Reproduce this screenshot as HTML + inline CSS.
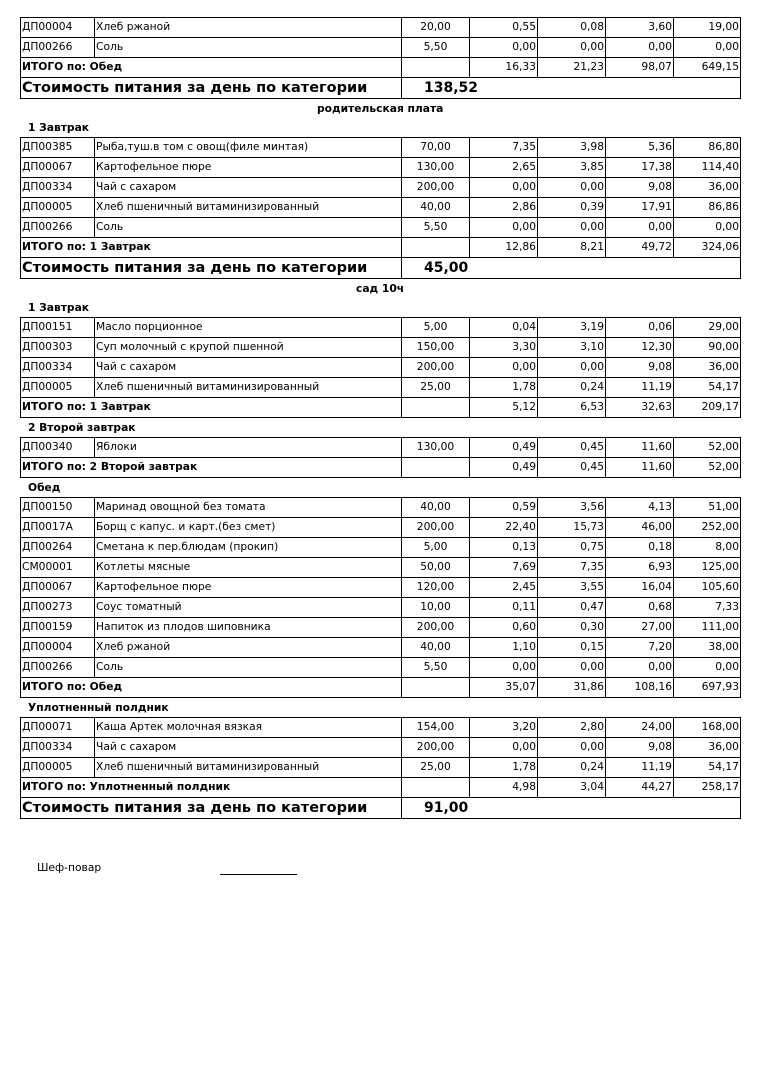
<!DOCTYPE html>
<html><head><meta charset="utf-8"><style>
body{margin:0;width:758px;height:1071px;background:#fff;position:relative;font-family:"DejaVu Sans","Liberation Sans",sans-serif;font-size:10.7px;color:#000;overflow:hidden}
table{position:absolute;left:20px;border-collapse:collapse;table-layout:fixed;width:721px}
td{border:1px solid #000;height:19px;padding:0 1px;white-space:nowrap;overflow:hidden;line-height:17px;vertical-align:top}
td.r{text-align:right}td.c{text-align:center}
tr.s td{font-weight:bold;font-size:14.5px;height:20px;line-height:20px;vertical-align:middle}
tr.s td.v{padding-left:22px;font-size:14px}
.h{position:absolute;font-weight:bold;font-size:10.7px}
</style></head><body>
<table style="top:17px"><colgroup><col style="width:74px"><col style="width:307px"><col style="width:68px"><col style="width:68px"><col style="width:68px"><col style="width:68px"><col style="width:67px"></colgroup>
<tr><td>ДП00004</td><td>Хлеб ржаной</td><td class="c">20,00</td><td class="r">0,55</td><td class="r">0,08</td><td class="r">3,60</td><td class="r">19,00</td></tr>
<tr><td>ДП00266</td><td>Соль</td><td class="c">5,50</td><td class="r">0,00</td><td class="r">0,00</td><td class="r">0,00</td><td class="r">0,00</td></tr>
<tr><td colspan="2"><b>ИТОГО по: Обед</b></td><td></td><td class="r">16,33</td><td class="r">21,23</td><td class="r">98,07</td><td class="r">649,15</td></tr>
<tr class="s"><td colspan="2">Стоимость питания за день по категории</td><td colspan="5" class="v">138,52</td></tr>
</table>
<div class="h" style="top:102px;left:317px">родительская плата</div>
<div class="h" style="top:121px;left:28px">1 Завтрак</div>
<table style="top:137px"><colgroup><col style="width:74px"><col style="width:307px"><col style="width:68px"><col style="width:68px"><col style="width:68px"><col style="width:68px"><col style="width:67px"></colgroup>
<tr><td>ДП00385</td><td>Рыба,туш.в том с овощ(филе минтая)</td><td class="c">70,00</td><td class="r">7,35</td><td class="r">3,98</td><td class="r">5,36</td><td class="r">86,80</td></tr>
<tr><td>ДП00067</td><td>Картофельное пюре</td><td class="c">130,00</td><td class="r">2,65</td><td class="r">3,85</td><td class="r">17,38</td><td class="r">114,40</td></tr>
<tr><td>ДП00334</td><td>Чай с сахаром</td><td class="c">200,00</td><td class="r">0,00</td><td class="r">0,00</td><td class="r">9,08</td><td class="r">36,00</td></tr>
<tr><td>ДП00005</td><td>Хлеб пшеничный витаминизированный</td><td class="c">40,00</td><td class="r">2,86</td><td class="r">0,39</td><td class="r">17,91</td><td class="r">86,86</td></tr>
<tr><td>ДП00266</td><td>Соль</td><td class="c">5,50</td><td class="r">0,00</td><td class="r">0,00</td><td class="r">0,00</td><td class="r">0,00</td></tr>
<tr><td colspan="2"><b>ИТОГО по: 1 Завтрак</b></td><td></td><td class="r">12,86</td><td class="r">8,21</td><td class="r">49,72</td><td class="r">324,06</td></tr>
<tr class="s"><td colspan="2">Стоимость питания за день по категории</td><td colspan="5" class="v">45,00</td></tr>
</table>
<div class="h" style="top:282px;left:356px">сад 10ч</div>
<div class="h" style="top:301px;left:28px">1 Завтрак</div>
<table style="top:317px"><colgroup><col style="width:74px"><col style="width:307px"><col style="width:68px"><col style="width:68px"><col style="width:68px"><col style="width:68px"><col style="width:67px"></colgroup>
<tr><td>ДП00151</td><td>Масло порционное</td><td class="c">5,00</td><td class="r">0,04</td><td class="r">3,19</td><td class="r">0,06</td><td class="r">29,00</td></tr>
<tr><td>ДП00303</td><td>Суп молочный с крупой пшенной</td><td class="c">150,00</td><td class="r">3,30</td><td class="r">3,10</td><td class="r">12,30</td><td class="r">90,00</td></tr>
<tr><td>ДП00334</td><td>Чай с сахаром</td><td class="c">200,00</td><td class="r">0,00</td><td class="r">0,00</td><td class="r">9,08</td><td class="r">36,00</td></tr>
<tr><td>ДП00005</td><td>Хлеб пшеничный витаминизированный</td><td class="c">25,00</td><td class="r">1,78</td><td class="r">0,24</td><td class="r">11,19</td><td class="r">54,17</td></tr>
<tr><td colspan="2"><b>ИТОГО по: 1 Завтрак</b></td><td></td><td class="r">5,12</td><td class="r">6,53</td><td class="r">32,63</td><td class="r">209,17</td></tr>
</table>
<div class="h" style="top:421px;left:28px">2 Второй завтрак</div>
<table style="top:437px"><colgroup><col style="width:74px"><col style="width:307px"><col style="width:68px"><col style="width:68px"><col style="width:68px"><col style="width:68px"><col style="width:67px"></colgroup>
<tr><td>ДП00340</td><td>Яблоки</td><td class="c">130,00</td><td class="r">0,49</td><td class="r">0,45</td><td class="r">11,60</td><td class="r">52,00</td></tr>
<tr><td colspan="2"><b>ИТОГО по: 2 Второй завтрак</b></td><td></td><td class="r">0,49</td><td class="r">0,45</td><td class="r">11,60</td><td class="r">52,00</td></tr>
</table>
<div class="h" style="top:481px;left:28px">Обед</div>
<table style="top:497px"><colgroup><col style="width:74px"><col style="width:307px"><col style="width:68px"><col style="width:68px"><col style="width:68px"><col style="width:68px"><col style="width:67px"></colgroup>
<tr><td>ДП00150</td><td>Маринад овощной без томата</td><td class="c">40,00</td><td class="r">0,59</td><td class="r">3,56</td><td class="r">4,13</td><td class="r">51,00</td></tr>
<tr><td>ДП0017А</td><td>Борщ с капус. и карт.(без смет)</td><td class="c">200,00</td><td class="r">22,40</td><td class="r">15,73</td><td class="r">46,00</td><td class="r">252,00</td></tr>
<tr><td>ДП00264</td><td>Сметана к пер.блюдам (прокип)</td><td class="c">5,00</td><td class="r">0,13</td><td class="r">0,75</td><td class="r">0,18</td><td class="r">8,00</td></tr>
<tr><td>СМ00001</td><td>Котлеты мясные</td><td class="c">50,00</td><td class="r">7,69</td><td class="r">7,35</td><td class="r">6,93</td><td class="r">125,00</td></tr>
<tr><td>ДП00067</td><td>Картофельное пюре</td><td class="c">120,00</td><td class="r">2,45</td><td class="r">3,55</td><td class="r">16,04</td><td class="r">105,60</td></tr>
<tr><td>ДП00273</td><td>Соус томатный</td><td class="c">10,00</td><td class="r">0,11</td><td class="r">0,47</td><td class="r">0,68</td><td class="r">7,33</td></tr>
<tr><td>ДП00159</td><td>Напиток из плодов шиповника</td><td class="c">200,00</td><td class="r">0,60</td><td class="r">0,30</td><td class="r">27,00</td><td class="r">111,00</td></tr>
<tr><td>ДП00004</td><td>Хлеб ржаной</td><td class="c">40,00</td><td class="r">1,10</td><td class="r">0,15</td><td class="r">7,20</td><td class="r">38,00</td></tr>
<tr><td>ДП00266</td><td>Соль</td><td class="c">5,50</td><td class="r">0,00</td><td class="r">0,00</td><td class="r">0,00</td><td class="r">0,00</td></tr>
<tr><td colspan="2"><b>ИТОГО по: Обед</b></td><td></td><td class="r">35,07</td><td class="r">31,86</td><td class="r">108,16</td><td class="r">697,93</td></tr>
</table>
<div class="h" style="top:701px;left:28px">Уплотненный полдник</div>
<table style="top:717px"><colgroup><col style="width:74px"><col style="width:307px"><col style="width:68px"><col style="width:68px"><col style="width:68px"><col style="width:68px"><col style="width:67px"></colgroup>
<tr><td>ДП00071</td><td>Каша Артек молочная вязкая</td><td class="c">154,00</td><td class="r">3,20</td><td class="r">2,80</td><td class="r">24,00</td><td class="r">168,00</td></tr>
<tr><td>ДП00334</td><td>Чай с сахаром</td><td class="c">200,00</td><td class="r">0,00</td><td class="r">0,00</td><td class="r">9,08</td><td class="r">36,00</td></tr>
<tr><td>ДП00005</td><td>Хлеб пшеничный витаминизированный</td><td class="c">25,00</td><td class="r">1,78</td><td class="r">0,24</td><td class="r">11,19</td><td class="r">54,17</td></tr>
<tr><td colspan="2"><b>ИТОГО по: Уплотненный полдник</b></td><td></td><td class="r">4,98</td><td class="r">3,04</td><td class="r">44,27</td><td class="r">258,17</td></tr>
<tr class="s"><td colspan="2">Стоимость питания за день по категории</td><td colspan="5" class="v">91,00</td></tr>
</table>
<div style="position:absolute;top:861px;left:37px">Шеф-повар</div>
<div style="position:absolute;top:874px;left:220px;width:77px;border-top:1px solid #000"></div>
</body></html>
